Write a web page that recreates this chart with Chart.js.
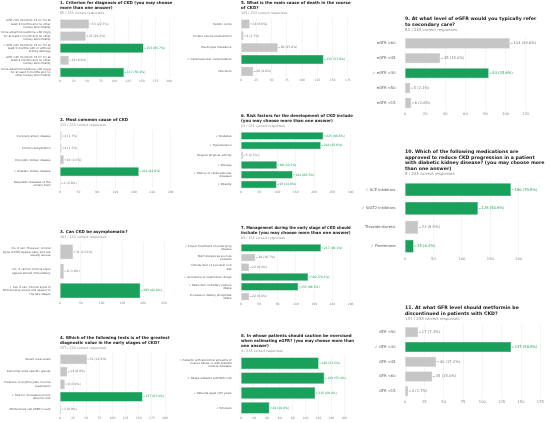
<!DOCTYPE html>
<html>
<head>
<meta charset="utf-8">
<script src="https://cdn.jsdelivr.net/npm/chart.js@4.4.0/dist/chart.umd.min.js"></script>
<style>
  body { margin: 0; background: #fff; width: 550px; height: 423px; position: relative; overflow: hidden; }
  .box { position: absolute; }
</style>
</head>
<body>
<div class="box" style="left:0;top:0;width:175px;height:86px"><canvas id="c1"></canvas></div>
<div class="box" style="left:0;top:117px;width:175px;height:80px"><canvas id="c2"></canvas></div>
<div class="box" style="left:0;top:229px;width:175px;height:79px"><canvas id="c3"></canvas></div>
<div class="box" style="left:0;top:335px;width:175px;height:88px"><canvas id="c4"></canvas></div>
<div class="box" style="left:180px;top:0;width:175px;height:85px"><canvas id="c5"></canvas></div>
<div class="box" style="left:180px;top:113px;width:175px;height:84px"><canvas id="c6"></canvas></div>
<div class="box" style="left:180px;top:225px;width:175px;height:84px"><canvas id="c7"></canvas></div>
<div class="box" style="left:180px;top:333px;width:175px;height:90px"><canvas id="c8"></canvas></div>
<div class="box" style="left:360px;top:15px;width:186px;height:104px"><canvas id="c9"></canvas></div>
<div class="box" style="left:360px;top:148px;width:186px;height:116px"><canvas id="c10"></canvas></div>
<div class="box" style="left:360px;top:304px;width:186px;height:103px"><canvas id="c11"></canvas></div>

<script>
const total = 233;

// 1
const q1Title = ['1. Criterion for diagnosis of CKD (you may choose', 'more than one answer)'];
const q1Sub = '85 / 233 correct responses';
const q1Labels = [
  ['GFR <60 mL/min/1.73 m\u00b2 for at', 'least 3 months and no other', 'kidney abnormality'],
  ['Urine albumin/creatinine \u226530 mg/g', 'for at least 1 month and no other', 'kidney abnormality'],
  ['\u2713 GFR <60 mL/min/1.73 m\u00b2 for at', 'least 3 months with or without', 'kidney damage'],
  ['GFR <45 mL/min/1.73 m\u00b2 for at', 'least 3 months and no other', 'kidney abnormality'],
  ['\u2713 Urine albumin/creatinine \u226530 mg/g', 'for at least 3 months and no', 'other kidney abnormality']
];
const q1Values = [53, 47, 153, 16, 117];
const q1Correct = [false, false, true, false, true];

// 2
const q2Title = ['2. Most common cause of CKD'];
const q2Sub = '212 / 233 correct responses';
const q2Labels = ['Coronary artery disease', 'Chronic dehydration', 'Polycystic kidney disease', '\u2713 Diabetic kidney disease', ['Neoplastic diseases of the', 'urinary tract']];
const q2Values = [4, 4, 10, 212, 2];
const q2Correct = [false, false, false, true, false];

// 3
const q3Title = ['3. Can CKD be asymptomatic?'];
const q3Sub = '193 / 233 correct responses';
const q3Labels = [
  ['No, it can. However, clinical', 'signs of CKD appear early and are', 'usually severe'],
  ['No, it cannot. Clinical signs', 'appear almost immediately'],
  ['\u2713 Yes, it can. Clinical signs of', 'CKD develop slowly and appear in', 'the late stages'],
];
const q3Values = [31, 9, 193];
const q3Correct = [false, false, true];

// 4
const q4Title = ['4. Which of the following tests is of the greatest', 'diagnostic value in the early stages of CKD?'];
const q4Sub = '157 / 233 correct responses';
const q4Labels = ['Serum urea levels', 'Abnormal urine specific gravity', ['Presence of erythrocytes in urine', '(sediment)'], ['\u2713 Test for increased urinary', 'albumin loss'], 'White blood cell (WBC) count'];
const q4Values = [51, 14, 9, 157, 2];
const q4Correct = [false, false, false, true, false];

// 5
const q5Title = ['5. What is the main cause of death in the course', 'of CKD?'];
const q5Sub = '135 / 233 correct responses';
const q5Labels = ['Ketotic coma', 'Protein-calorie malnutrition', 'Electrolyte imbalance', '\u2713 Cardiovascular complications', 'Infections'];
const q5Values = [14, 4, 60, 135, 20];
const q5Correct = [false, false, false, true, false];

// 6
const q6Title = ['6. Risk factors for the development of CKD include', '(you may choose more than one answer)'];
const q6Sub = '63 / 233 correct responses';
const q6Labels = ['\u2713 Diabetes', '\u2713 Hypertension', 'Regular physical activity', '\u2713 Old age', ['\u2713 History of cardiovascular', 'diseases'], '\u2713 Obesity'];
const q6Values = [225, 218, 5, 98, 141, 97];
const q6Correct = [true, true, false, true, true, true];

// 7
const q7Title = ['7. Management during the early stage of CKD should', 'include (you may choose more than one answer)'];
const q7Sub = '93 / 233 correct responses';
const q7Labels = [
  ['\u2713 Proper treatment of underlying', 'disease'], ['Start dialysis as soon as', 'possible'], ['Introduction of a protein-rich', 'diet'],
  '\u2713 Avoidance of nephrotoxic drugs', ['\u2713 Reduction of dietary sodium', 'intake'], ['Increase in dietary phosphate', 'intake']
];
const q7Values = [217, 39, 22, 182, 155, 22];
const q7Correct = [true, false, false, true, true, false];

// 8
const q8Title = ['8. In whose patients should caution be exercised', 'when estimating eGFR? (you may choose more than', 'one answer)'];
const q8Sub = '4 / 233 correct responses';
const q8Labels = [
  ['\u2713 Patients with abnormal amounts of', 'muscle tissue or with skeletal', 'muscle diseases'],
  '\u2713 Obese patients with BMI >40', '\u2713 Patients aged >65 years', '\u2713 Smokers'
];
const q8Values = [120, 129, 115, 44];
const q8Correct = [true, true, true, true];

// 9
const q9Title = ['9. At what level of eGFR would you typically refer', 'to secondary care?'];
const q9Sub = '83 / 233 correct responses';
const q9Labels = ['eGFR <60', 'eGFR <45', '\u2713 eGFR <30', 'eGFR <50', 'eGFR <15'];
const q9Values = [104, 35, 83, 5, 6];
const q9Correct = [false, false, true, false, false];

// 10
const q10Title = ['10. Which of the following medications are', 'approved to reduce CKD progression in a patient', 'with diabetic kidney disease? (you may choose more', 'than one answer)'];
const q10Sub = '8 / 233 correct responses';
const q10Labels = ['\u2713 ACE inhibitors', '\u2713 SGLT2 inhibitors', 'Thiazide diuretic', '\u2713 Finerenone'];
const q10Values = [186, 128, 23, 15];
const q10Correct = [true, true, false, true];

// 11
const q11Title = ['11. At what GFR level should metformin be', 'discontinued in patients with CKD?'];
const q11Sub = '137 / 233 correct responses';
const q11Labels = ['GFR <90', '\u2713 GFR <30', 'GFR <45', 'GFR <60', 'GFR <15'];
const q11Values = [17, 137, 40, 35, 4];
const q11Correct = [false, true, false, false, false];

const GREEN = '#19a05a';
const GREEN_EDGE = '#0f7f45';
const GREY = '#c6c6c6';
const GREY_EDGE = '#adadad';
const FONT = "'DejaVu Sans', sans-serif";

const valueLabels = {
  id: 'valueLabels',
  afterDatasetsDraw(chart, args, opts) {
    const ctx = chart.ctx;
    const ds = chart.data.datasets[0];
    ctx.save();
    ctx.font = opts.size + 'px ' + FONT;
    ctx.textBaseline = 'middle';
    chart.getDatasetMeta(0).data.forEach((bar, i) => {
      const v = ds.data[i];
      const col = ds.correct[i] ? GREEN : '#777';
      ctx.strokeStyle = col;
      ctx.lineWidth = 0.5;
      ctx.beginPath();
      ctx.moveTo(bar.x + 0.7, bar.y);
      ctx.lineTo(bar.x + opts.size * 0.8, bar.y);
      ctx.stroke();
      ctx.fillStyle = col;
      ctx.fillText(v + ' (' + (v / total * 100).toFixed(1) + '%)', bar.x + opts.size, bar.y);
    });
    ctx.restore();
  }
};

function drawQuestion(id, title, sub, labels, values, correct, o) {
  new Chart(document.getElementById(id), {
    type: 'bar',
    data: {
      labels: labels,
      datasets: [{
        data: values,
        correct: correct,
        backgroundColor: correct.map(c => c ? GREEN : GREY),
        borderColor: correct.map(c => c ? GREEN_EDGE : GREY_EDGE),
        borderWidth: 0.5,
        categoryPercentage: o.cat,
        barPercentage: 1
      }]
    },
    options: {
      indexAxis: 'y',
      responsive: true,
      maintainAspectRatio: false,
      animation: false,
      layout: { padding: { left: 0, right: 1, top: 0, bottom: 1 } },
      plugins: {
        legend: { display: false },
        tooltip: { enabled: false },
        title: {
          display: true, text: title, align: 'start', fullSize: false, color: '#222',
          font: { family: FONT, size: o.tf, weight: 'bold', lineHeight: 1.2 },
          padding: { top: 1, bottom: 0.4 }
        },
        subtitle: {
          display: true, text: sub, align: 'start', fullSize: false, color: '#888',
          font: { family: FONT, size: o.sf, lineHeight: 1.2 },
          padding: { top: 0, bottom: o.gap }
        },
        valueLabels: { size: o.vf }
      },
      scales: {
        x: {
          min: 0, max: o.max,
          grid: { color: '#ebebeb', lineWidth: 0.5, drawTicks: false },
          border: { display: false },
          ticks: {
            stepSize: o.step, includeBounds: false, color: '#888', padding: 1.5,
            font: { family: FONT, size: o.xf },
            callback: v => String(Math.round(v))
          }
        },
        y: {
          grid: { display: false },
          border: { display: false },
          afterFit: s => { s.width = o.yw; },
          ticks: { color: '#555', padding: 1.5, autoSkip: false, font: { family: FONT, size: o.yf, lineHeight: 1.2 } }
        }
      }
    },
    plugins: [valueLabels]
  });
}

const small = { tf: 4, sf: 3.3, gap: 3, vf: 3, xf: 3, yf: 2.8, cat: 0.76 };
const big = { tf: 4.7, sf: 3.9, gap: 3.5, vf: 3.7, xf: 3.7, yf: 3.7, cat: 0.68 };

drawQuestion('c1', q1Title, q1Sub, q1Labels, q1Values, q1Correct, Object.assign({}, small, { max: 209, step: 25, yw: 60 }));
drawQuestion('c2', q2Title, q2Sub, q2Labels, q2Values, q2Correct, Object.assign({}, small, { max: 298, step: 50, yw: 60 }));
drawQuestion('c3', q3Title, q3Sub, q3Labels, q3Values, q3Correct, Object.assign({}, small, { max: 274, step: 50, yw: 60 }));
drawQuestion('c4', q4Title, q4Sub, q4Labels, q4Values, q4Correct, Object.assign({}, small, { max: 217, step: 25, yw: 60 }));
drawQuestion('c5', q5Title, q5Sub, q5Labels, q5Values, q5Correct, Object.assign({}, small, { max: 185, step: 25, yw: 61 }));
drawQuestion('c6', q6Title, q6Sub, q6Labels, q6Values, q6Correct, Object.assign({}, small, { max: 306, step: 50, yw: 61 }));
drawQuestion('c7', q7Title, q7Sub, q7Labels, q7Values, q7Correct, Object.assign({}, small, { max: 298, step: 50, yw: 61 }));
drawQuestion('c8', q8Title, q8Sub, q8Labels, q8Values, q8Correct, Object.assign({}, small, { max: 175, step: 20, yw: 61 }));
drawQuestion('c9', q9Title, q9Sub, q9Labels, q9Values, q9Correct, Object.assign({}, big, { max: 139, step: 20, yw: 45 }));
drawQuestion('c10', q10Title, q10Sub, q10Labels, q10Values, q10Correct, Object.assign({}, big, { max: 246, step: 50, yw: 45 }));
drawQuestion('c11', q11Title, q11Sub, q11Labels, q11Values, q11Correct, Object.assign({}, big, { max: 181, step: 25, yw: 45 }));
</script>
</body>
</html>
